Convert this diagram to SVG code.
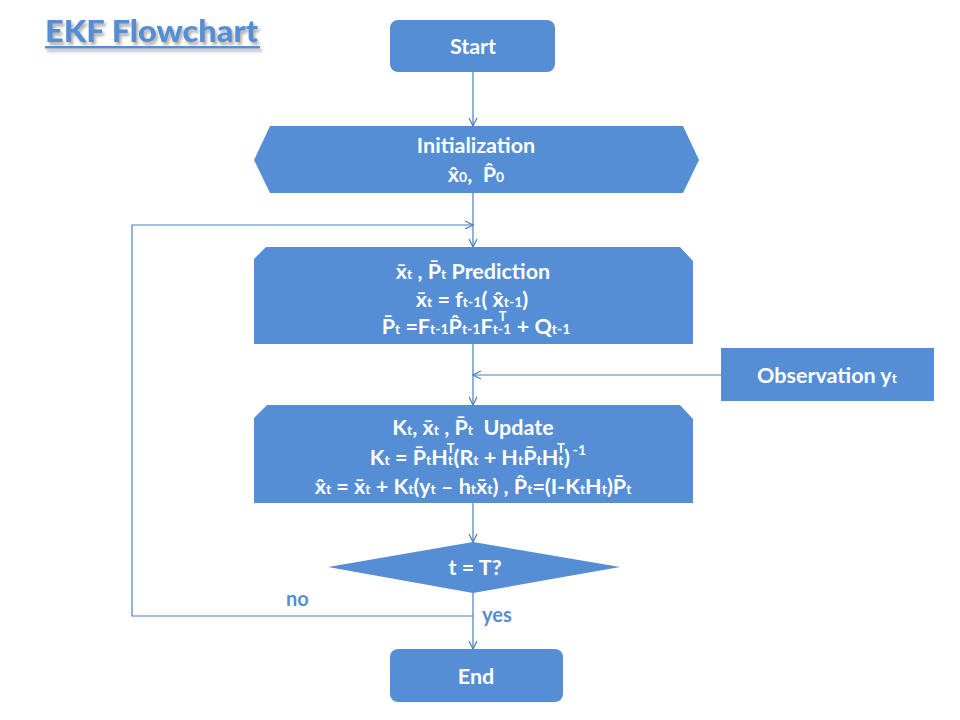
<svg xmlns="http://www.w3.org/2000/svg" width="960" height="720" viewBox="0 0 960 720">
<defs>
<style>
.shape{fill:#558ED5;}
.lbl{font-family:Lato,"Open Sans","Liberation Sans",sans-serif;font-weight:bold;fill:#ffffff;font-size:21.5px;text-anchor:middle;}
.sub{font-size:14px;}
.sup{font-size:13px;}
.edge{fill:none;stroke:#4A7EBB;stroke-width:1.2;}
.elbl{font-family:Lato,"Open Sans","Liberation Sans",sans-serif;font-weight:bold;fill:#558ED5;font-size:20px;}
</style>
<marker id="arr" markerWidth="10" markerHeight="10" refX="9" refY="5" orient="auto" markerUnits="userSpaceOnUse">
<path d="M1,1 L9,5 L1,9" fill="none" stroke="#4A7EBB" stroke-width="1.2"/>
</marker>
<filter id="shadow" x="-10%" y="-30%" width="130%" height="170%">
<feDropShadow dx="2" dy="3" stdDeviation="1.5" flood-color="#777777" flood-opacity="0.6"/>
</filter>
</defs>
<rect width="960" height="720" fill="#ffffff"/>

<g id="title" filter="url(#shadow)">
<text x="45" y="42" font-family="Lato,'Open Sans','Liberation Sans',sans-serif" font-weight="900" font-size="31" fill="#558ED5" textLength="213" lengthAdjust="spacingAndGlyphs">EKF Flowchart</text>
<rect x="45" y="46" width="215" height="2.5" fill="#558ED5"/>
</g>

<g id="connectors">
<line class="edge" x1="473" y1="72" x2="473" y2="126" marker-end="url(#arr)"/>
<line class="edge" x1="473" y1="193" x2="473" y2="247" marker-end="url(#arr)"/>
<line class="edge" x1="473" y1="344" x2="473" y2="405" marker-end="url(#arr)"/>
<line class="edge" x1="473" y1="503" x2="473" y2="542" marker-end="url(#arr)"/>
<line class="edge" x1="473" y1="593" x2="473" y2="649" marker-end="url(#arr)"/>
<path class="edge" d="M473,616 H132 V225 H473" marker-end="url(#arr)"/>
<line class="edge" x1="721" y1="375" x2="473" y2="375" marker-end="url(#arr)"/>
<text class="elbl" x="286" y="606">no</text>
<text class="elbl" x="482" y="622">yes</text>
</g>

<g id="start">
<rect class="shape" x="390" y="20" width="165" height="52" rx="8"/>
<text class="lbl" x="473" y="54">Start</text>
</g>

<g id="init">
<polygon class="shape" points="254,160 270,126 683,126 699,160 683,193 270,193"/>
<text class="lbl" x="476" y="153">Initialization</text>
<text class="lbl" x="476" y="182">x̂<tspan class="sub">0</tspan>,&#160;&#160;P̂<tspan class="sub">0</tspan></text>
</g>

<g id="prediction">
<polygon class="shape" points="254,259 266,247 680,247 693,261 693,344 254,344"/>
<text class="lbl" x="473" y="279">x̄<tspan class="sub">t</tspan> , P̄<tspan class="sub">t</tspan> Prediction</text>
<text class="lbl" x="472" y="307">x̄<tspan class="sub">t</tspan> = f<tspan class="sub">t-1</tspan>( x̂<tspan class="sub">t-1</tspan>)</text>
<text class="lbl" x="476" y="334">P̄<tspan class="sub">t</tspan> =F<tspan class="sub">t-1</tspan>P̂<tspan class="sub">t-1</tspan>F<tspan class="sub">t-1</tspan><tspan class="sup" dx="-12.5" dy="-13">T</tspan><tspan dx="5" dy="13"> + Q</tspan><tspan class="sub">t-1</tspan></text>
</g>

<g id="observation">
<rect class="shape" x="721" y="348" width="213" height="53"/>
<text class="lbl" x="827" y="383">Observation y<tspan class="sub">t</tspan></text>
</g>

<g id="update">
<polygon class="shape" points="254,418 267,405 680,405 693,419 693,503 254,503"/>
<text class="lbl" x="473" y="435">K<tspan class="sub">t</tspan>, x̄<tspan class="sub">t</tspan> , P̄<tspan class="sub">t</tspan>&#160;&#160;Update</text>
<text class="lbl" x="478" y="465">K<tspan class="sub">t</tspan> = P̄<tspan class="sub">t</tspan>H<tspan class="sub">t</tspan><tspan class="sup" dx="-6.4" dy="-12">T</tspan><tspan dx="-1" dy="12">(R</tspan><tspan class="sub">t</tspan> + H<tspan class="sub">t</tspan>P̄<tspan class="sub">t</tspan>H<tspan class="sub">t</tspan><tspan class="sup" dx="-6.4" dy="-12">T</tspan><tspan dx="-1" dy="12">)</tspan><tspan class="sub" dx="3" dy="-10">-1</tspan></text>
<text class="lbl" x="473" y="494">x̂<tspan class="sub">t</tspan> = x̄<tspan class="sub">t</tspan> + K<tspan class="sub">t</tspan>(y<tspan class="sub">t</tspan> – h<tspan class="sub">t</tspan>x̄<tspan class="sub">t</tspan>) , P̂<tspan class="sub">t</tspan>=(I-K<tspan class="sub">t</tspan>H<tspan class="sub">t</tspan>)P̄<tspan class="sub">t</tspan></text>
</g>

<g id="decision">
<polygon class="shape" points="328,567 473,542 620,567 473,593"/>
<text class="lbl" x="475" y="575">t = T?</text>
</g>

<g id="end">
<rect class="shape" x="390" y="649" width="173" height="53" rx="8"/>
<text class="lbl" x="476" y="684">End</text>
</g>
</svg>
